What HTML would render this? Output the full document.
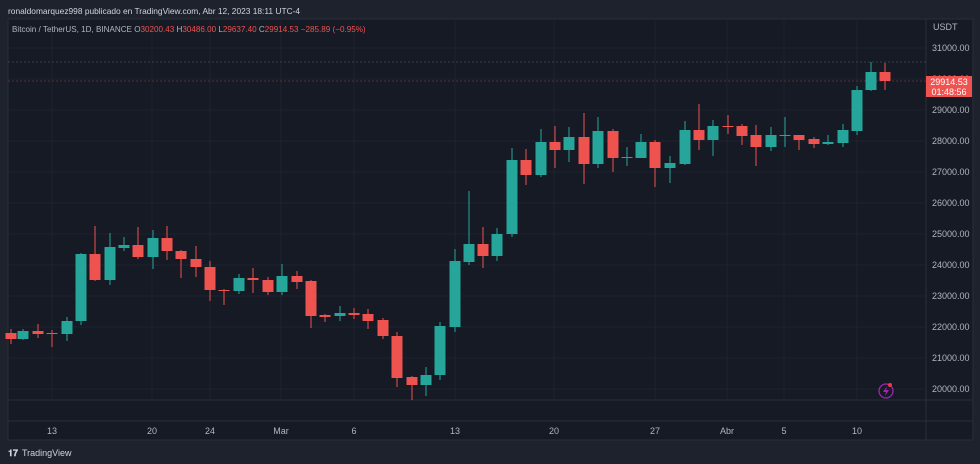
<!DOCTYPE html>
<html><head><meta charset="utf-8"><style>
html,body{margin:0;padding:0;background:#1e222d;width:980px;height:464px;overflow:hidden;font-family:"Liberation Sans",sans-serif}
svg{display:block}
</style></head><body>
<svg id="s" width="980" height="464" xmlns="http://www.w3.org/2000/svg" font-family="Liberation Sans, sans-serif">
<rect x="0" y="0" width="980" height="464" fill="#1e222d"/>
<text x="8" y="14" font-size="8.4" fill="#d1d4dc">ronaldomarquez998 publicado en TradingView.com, Abr 12, 2023 18:11 UTC-4</text>
<rect x="8" y="19" width="965" height="421" fill="#161a25" stroke="#2a2e39" stroke-width="1"/>
<g id="grid" stroke="#1f2330" stroke-width="1"></g>
<line x1="8" y1="62" x2="926" y2="62" stroke="#3a3e4a" stroke-dasharray="2,2"/>
<line x1="8" y1="81" x2="926" y2="81" stroke="#5a2e38" stroke-dasharray="2,2"/>
<line x1="926" y1="19" x2="926" y2="440" stroke="#2a2e39"/>
<line x1="8" y1="400" x2="973" y2="400" stroke="#2a2e39"/>
<line x1="8" y1="421" x2="973" y2="421" stroke="#2a2e39"/>
<g id="c"></g>
<text x="12" y="32" font-size="8.1" fill="#b2b5be">Bitcoin / TetherUS, 1D, BINANCE <tspan fill="#b2b5be">O</tspan><tspan fill="#ef5350">30200.43</tspan> <tspan fill="#b2b5be">H</tspan><tspan fill="#ef5350">30486.00</tspan> <tspan fill="#b2b5be">L</tspan><tspan fill="#ef5350">29637.40</tspan> <tspan fill="#b2b5be">C</tspan><tspan fill="#ef5350">29914.53</tspan> <tspan fill="#ef5350">−285.89 (−0.95%)</tspan></text>
<text x="933" y="30" font-size="9" fill="#b2b5be">USDT</text>
<g id="yl" font-size="9" fill="#b2b5be"></g>
<rect x="926" y="76" width="46" height="21" fill="#f0524f"/>
<text x="949" y="85" font-size="9" fill="#fff" text-anchor="middle">29914.53</text>
<text x="949" y="95" font-size="9" fill="#fff" text-anchor="middle">01:48:56</text>
<g id="xl" font-size="9" fill="#b2b5be" text-anchor="middle"></g>
<circle cx="886" cy="391" r="7" fill="none" stroke="#9c27b0" stroke-width="1.3"/>
<path d="M887 386 L883 392 L886 392 L885 396 L889 390 L886 390 Z" fill="#9c27b0"/>
<circle cx="890" cy="385" r="2" fill="#f23645"/>
<text x="8" y="456" font-size="9" fill="#d1d4dc" font-weight="bold">𝟏𝟕</text>
<text x="22" y="456" font-size="9" fill="#d1d4dc">TradingView</text>
</svg>
<script>
var NS="http://www.w3.org/2000/svg";
function el(p,t,a,txt){var e=document.createElementNS(NS,t);for(var k in a)e.setAttribute(k,a[k]);if(txt)e.textContent=txt;document.getElementById(p).appendChild(e);}
for(var i=0;i<12;i++){var y=48+31*i;el("grid","line",{x1:8,y1:y,x2:926,y2:y});el("yl","text",{x:932,y:y+3},(31000-1000*i).toLocaleString("en-US",{useGrouping:false})+".00");}
var xs=[[52,"13"],[152,"20"],[210,"24"],[281,"Mar"],[354,"6"],[455,"13"],[554,"20"],[655,"27"],[727,"Abr"],[784,"5"],[857,"10"]];
xs.forEach(function(d){el("grid","line",{x1:d[0],y1:19,x2:d[0],y2:400});el("xl","text",{x:d[0],y:434},d[1]);});
var G="#26a69a",R="#ef5350";
var c=[[11,333,339,329,344,R],[23,331,339,329,340,G],[38,331,334,324,338,R],[52,333,334,330,347,R],[67,321,334,317,341,G],[81,254,321,253,325,G],[95,254,280,226,281,R],[110,247,280,233,285,G],[124,245,248,237,251,G],[138,245,257,227,259,R],[153,238,257,230,269,G],[167,238,251,226,260,R],[181,251,259,250,278,R],[196,259,267,246,277,R],[210,267,290,261,301,R],[224,290,291,289,305,R],[239,278,291,274,294,G],[253,278,280,268,293,R],[268,280,292,277,295,R],[282,276,292,264,295,G],[297,276,282,271,289,R],[311,281,316,280,328,R],[325,315,317,314,322,R],[340,313,316,306,321,G],[354,313,315,308,319,R],[368,314,321,309,329,R],[383,320,336,318,339,R],[397,336,378,332,387,R],[412,377,385,376,400,R],[426,375,385,367,396,G],[440,326,375,322,380,G],[455,261,327,249,332,G],[469,244,262,191,265,G],[483,244,256,227,268,R],[497,234,256,228,261,G],[512,160,234,148,237,G],[526,160,175,149,185,R],[541,142,175,129,177,G],[555,142,150,126,168,R],[569,137,150,127,162,G],[584,137,164,113,184,R],[598,131,164,117,168,G],[613,131,158,129,172,R],[627,157,158,147,166,G],[641,142,158,134,158,G],[655,142,168,140,187,R],[670,163,168,156,183,G],[685,130,164,121,165,G],[699,130,140,104,150,R],[713,126,140,120,156,G],[728,126,127,115,134,R],[742,126,136,124,145,R],[756,135,147,125,166,R],[771,135,147,127,151,G],[785,135,136,117,147,G],[799,135,140,135,150,R],[814,139,144,137,148,R],[828,142,144,135,145,G],[843,130,143,124,147,G],[857,90,131,86,135,G],[871,72,90,62,91,G],[885,72,81,63,90,R]];
c.forEach(function(d){el("c","line",{x1:d[0],y1:d[3],x2:d[0],y2:d[4],stroke:d[5],"stroke-width":1});el("c","rect",{x:d[0]-5.5,y:d[1],width:11,height:Math.max(1,d[2]-d[1]),fill:d[5]});});
</script>
</body></html>
